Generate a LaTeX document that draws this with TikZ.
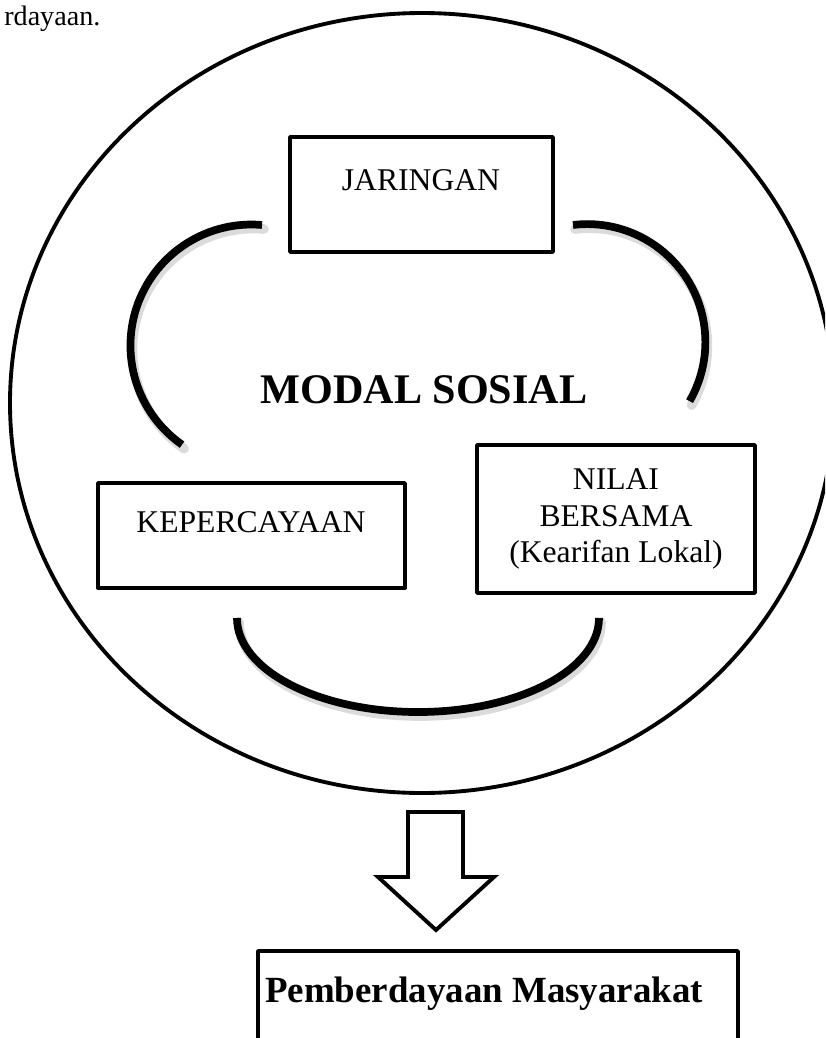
\documentclass[tikz,border=0pt]{standalone}
\usepackage{fontspec}
\setmainfont{Liberation Serif}
\usetikzlibrary{positioning}

\tikzset{
  box/.style={draw, line width=2.2pt, line join=round, inner sep=0pt},
  lbl/.style={font=\fontsize{18}{21}\selectfont, align=center, inner sep=0pt},
  ring/.style={line width=4.4pt},
  ringshade/.style={line width=5.5pt, draw=black!14, line cap=round},
}

\begin{document}
\begin{tikzpicture}[x=0.02cm, y=-0.02cm]
\useasboundingbox (0,0) rectangle (825,1038);
\clip (0,0) rectangle (825,1038);

% page text at the top
\node[font=\fontsize{16}{19}\selectfont, anchor=base west, inner sep=0pt] (pagetxt) at (4,25) {rdayaan.};

% outer circle
\draw[line width=2.2pt] (422,403) ellipse [x radius=412, y radius=390];

% three elements
\node[box, minimum width=5.26cm, minimum height=2.3cm] (jar) at (421.5,194.5) {};
\node[lbl, anchor=base] (jartxt) at (421,190) {JARINGAN};
\node[box, minimum width=6.14cm, minimum height=2.1cm] (kep) at (251.5,535.5) {};
\node[lbl, anchor=base] (keptxt) at (251,532) {KEPERCAYAAN};
\node[box, lbl, minimum width=5.56cm, minimum height=2.96cm] (nil) at (616,519)
  {NILAI\\BERSAMA\\(Kearifan Lokal)};

\node[font=\bfseries\fontsize{24}{28}\selectfont, anchor=base, inner sep=0pt] (modal) at (424,403) {MODAL SOSIAL};

% linking arcs
\coordinate (arcl) at (262,225);
\coordinate (arcr) at (573,225);
\coordinate (arcb) at (237,618);
\draw[ringshade] ([shift={(2,4)}]arcl) arc[start angle=-85, end angle=-235, radius=121];
\draw[ringshade] ([shift={(2,4)}]arcr) arc[start angle=-97, end angle=30, radius=118];
\draw[ringshade] ([shift={(2,4)}]arcb) arc[start angle=180, end angle=0, x radius=181, y radius=94];
\draw[ring] (arcl) arc[start angle=-85, end angle=-235, radius=121];
\draw[ring] (arcr) arc[start angle=-97, end angle=30, radius=118];
\draw[ring] (arcb) arc[start angle=180, end angle=0, x radius=181, y radius=94];

% block arrow down
\draw[line width=2.2pt] (408,812) -- (463,812) -- (463,877) -- (494,877) -- (436,930)
  -- (378,877) -- (408,877) -- cycle;

% result
\node[box, minimum width=9.6cm, minimum height=2.58cm] (pm) at (498,1015.5) {};
\node[font=\bfseries\fontsize{21}{25}\selectfont, anchor=base, inner sep=0pt] (pmtxt) at (484,1002) {Pemberdayaan Masyarakat};
\end{tikzpicture}
\end{document}
